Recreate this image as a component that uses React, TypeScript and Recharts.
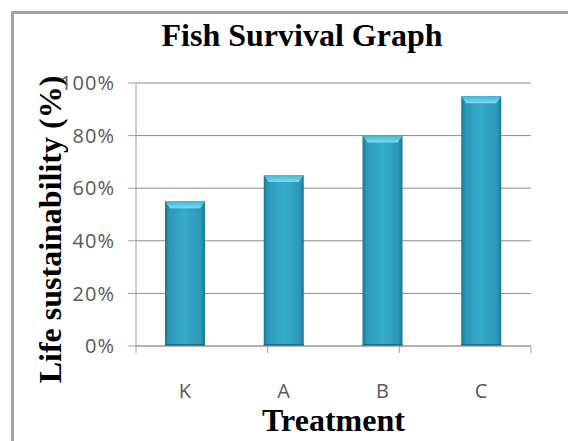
import React from "react";
import { BarChart, Bar, XAxis, YAxis, CartesianGrid } from "recharts";

const treatments = ["K", "A", "B", "C"];
const survival = [55, 65, 80, 95];
const yTicks = [0, 20, 40, 60, 80, 100];
const boundaryTicks = [0, 1, 2, 3, 4];

const data = treatments.map((name, i) => ({ name, survival: survival[i] }));

const tickFont = {
  fontSize: 20,
  fill: "#595959",
  fontFamily: "'Open Sans', sans-serif",
  letterSpacing: 1,
};
const titleFont = "'Liberation Serif', 'Times New Roman', serif";

function GlossyBar(props: any) {
  const { x, y, width, height } = props;
  if (!height || height <= 0) return null;
  const cap = 7;
  return (
    <g>
      <rect x={x} y={y} width={width} height={height} fill="url(#barBody)" />
      <path
        d={`M${x},${y} L${x + width},${y} L${x + width - 5},${y + cap} L${x + 5},${y + cap} Z`}
        fill="url(#barCap)"
      />
      <rect x={x} y={y + height - 2} width={width} height={2} fill="#1b6a80" />
    </g>
  );
}

// axis title drawn with a white halo, it hides the "1" of 100% like the original
function YTitle(props: any) {
  const { viewBox } = props;
  const cx = viewBox.x + 50;
  const cy = viewBox.y + viewBox.height / 2 + 15;
  return (
    <text
      x={cx}
      y={cy}
      transform={`rotate(-90, ${cx}, ${cy})`}
      textAnchor="middle"
      dominantBaseline="central"
      fontFamily={titleFont}
      fontWeight="bold"
      fontSize={32}
      fill="#000"
      stroke="#fff"
      strokeWidth={8}
      paintOrder="stroke"
    >
      Life sustainability (%)
    </text>
  );
}

export default function App() {
  return (
    <div style={{ position: "absolute", left: 0, top: 0, width: 568, height: 441, background: "#fff" }}>
      <div
        style={{
          position: "absolute",
          left: 11,
          top: 11,
          width: 570,
          height: 440,
          borderLeft: "3px solid #a3a3a3",
          borderTop: "3px solid #a3a3a3",
        }}
      />
      <BarChart
        width={568}
        height={441}
        data={data}
        margin={{ top: 83, right: 37, bottom: 0, left: 0 }}
        style={{ position: "absolute", left: 0, top: 0 }}
      >
        <defs>
          <linearGradient id="barBody" x1="0" y1="0" x2="1" y2="0">
            <stop offset="0%" stopColor="#1d7590" />
            <stop offset="10%" stopColor="#2b98b8" />
            <stop offset="50%" stopColor="#36abcc" />
            <stop offset="90%" stopColor="#2b98b8" />
            <stop offset="100%" stopColor="#1d7590" />
          </linearGradient>
          <linearGradient id="barCap" x1="0" y1="0" x2="0" y2="1">
            <stop offset="0%" stopColor="#3fb5d6" />
            <stop offset="100%" stopColor="#7fdcf2" />
          </linearGradient>
        </defs>
        <CartesianGrid vertical={false} stroke="#8a8a8a" xAxisId="b" />
        {/* boundary ticks between categories, stacked first so it sits on the plot edge */}
        <XAxis
          xAxisId="a"
          type="number"
          domain={[0, 4]}
          allowDataOverflow
          ticks={boundaryTicks}
          interval={0}
          tickFormatter={() => ""}
          tickSize={7}
          height={1}
          stroke="#a0a0a0"
        />
        <XAxis
          xAxisId="b"
          dataKey="name"
          tick={tickFont}
          tickLine={false}
          axisLine={false}
          tickMargin={31}
          height={94}
          label={{
            value: "Treatment",
            position: "insideBottom",
            offset: 10,
            fill: "#000",
            fontSize: 32,
            fontWeight: "bold",
            fontFamily: titleFont,
          }}
        />
        <YAxis
          domain={[0, 100]}
          ticks={yTicks}
          tickFormatter={(v: number) => `${v}%`}
          tick={tickFont}
          tickSize={8}
          tickMargin={13}
          width={136}
          stroke="#a0a0a0"
          label={<YTitle />}
        />
        <Bar xAxisId="b" dataKey="survival" barSize={40} shape={<GlossyBar />} isAnimationActive={false} />
      </BarChart>
      <div
        style={{
          position: "absolute",
          left: 0,
          top: 17,
          width: 604,
          textAlign: "center",
          fontFamily: titleFont,
          fontWeight: "bold",
          fontSize: 32,
          color: "#000",
        }}
      >
        Fish Survival Graph
      </div>
    </div>
  );
}
